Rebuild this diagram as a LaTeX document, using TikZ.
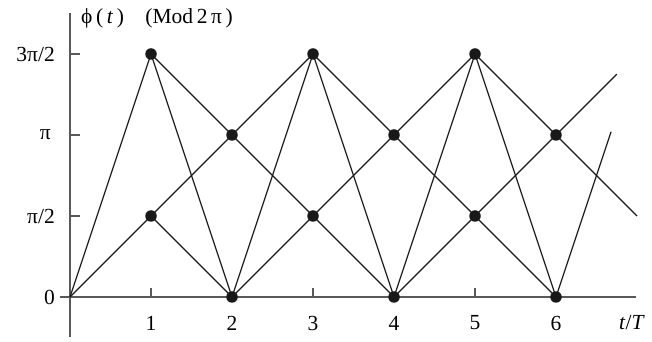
\documentclass[tikz,border=0pt]{standalone}
\usepackage{fontspec}
\setmainfont{Liberation Serif}
\begin{document}
\begin{tikzpicture}[x=1pt,y=1pt,
  dot/.style={circle,fill=black!90,inner sep=0pt,minimum size=11.5pt},
  trj/.style={line width=1.2pt,black!90},
  axis/.style={line width=1.6pt,black!65},
  lab/.style={font=\fontsize{21.5}{24}\selectfont,inner sep=0pt}]
\useasboundingbox (0,0) rectangle (652,342);
% origin (70,45), unit 81
\coordinate (o) at (70,45);
\foreach \i/\j in {1/1,1/3,2/0,2/2,3/1,3/3,4/0,4/2,5/1,5/3,6/0,6/2}{
  \coordinate (c\i\j) at ({70+81*\i},{45+81*\j});
}
\coordinate (e1) at ({70+81*6.75},{45+81*2.75});
\coordinate (e2) at ({70+81*7},{45+81*1});
\coordinate (e3) at ({70+81*6.68},{45+81*2.04});
% axes
\coordinate (xa) at (60,45);
\coordinate (xb) at (636,45);
\coordinate (ya) at (70,5);
\coordinate (yb) at (70,329);
\draw[axis] (xa) -- (xb);
\draw[axis] (ya) -- (yb);
\foreach \i in {1,3,5}{ \draw[axis] ({70+81*\i},45) -- ({70+81*\i},54); }
\foreach \j in {1,2,3}{ \draw[axis] (70,{45+81*\j}) -- (80,{45+81*\j}); }
% trajectories
\draw[trj] (o) -- (c13);
\draw[trj] (o) -- (c11);
\foreach \a/\b in {13/22,13/20,11/22,11/20,
                   20/31,20/33,22/33,22/31,
                   33/42,33/40,31/42,31/40,
                   40/51,40/53,42/53,42/51,
                   53/62,53/60,51/62,51/60}{
  \draw[trj] (c\a) -- (c\b);
}
\draw[trj] (c62) -- (e1);
\draw[trj] (c62) -- (e2);
\draw[trj] (c60) -- (e3);
% dots
\foreach \n in {11,13,20,22,31,33,40,42,51,53,60,62}{
  \node[dot] (d\n) at (c\n) {};
}
% labels
\node[lab,anchor=east] (l0) at (55,45) {0};
\node[lab,anchor=east] (l1) at (55,126) {π/2};
\node[lab,anchor=east] (l2) at (51,207) {π};
\node[lab,anchor=east] (l3) at (55,288) {3π/2};
\foreach \i in {1,...,6}{
  \node[lab] (t\i) at ({70+81*\i},19) {\i};
}
\node[lab] (tT) at (632,19) {\textit{t}/\textit{T}};
\node[lab,anchor=west] (title) at (81,324) {ϕ\,(\,\textit{t}\,)\quad(Mod\,2\,π\,)};
\end{tikzpicture}
\end{document}
